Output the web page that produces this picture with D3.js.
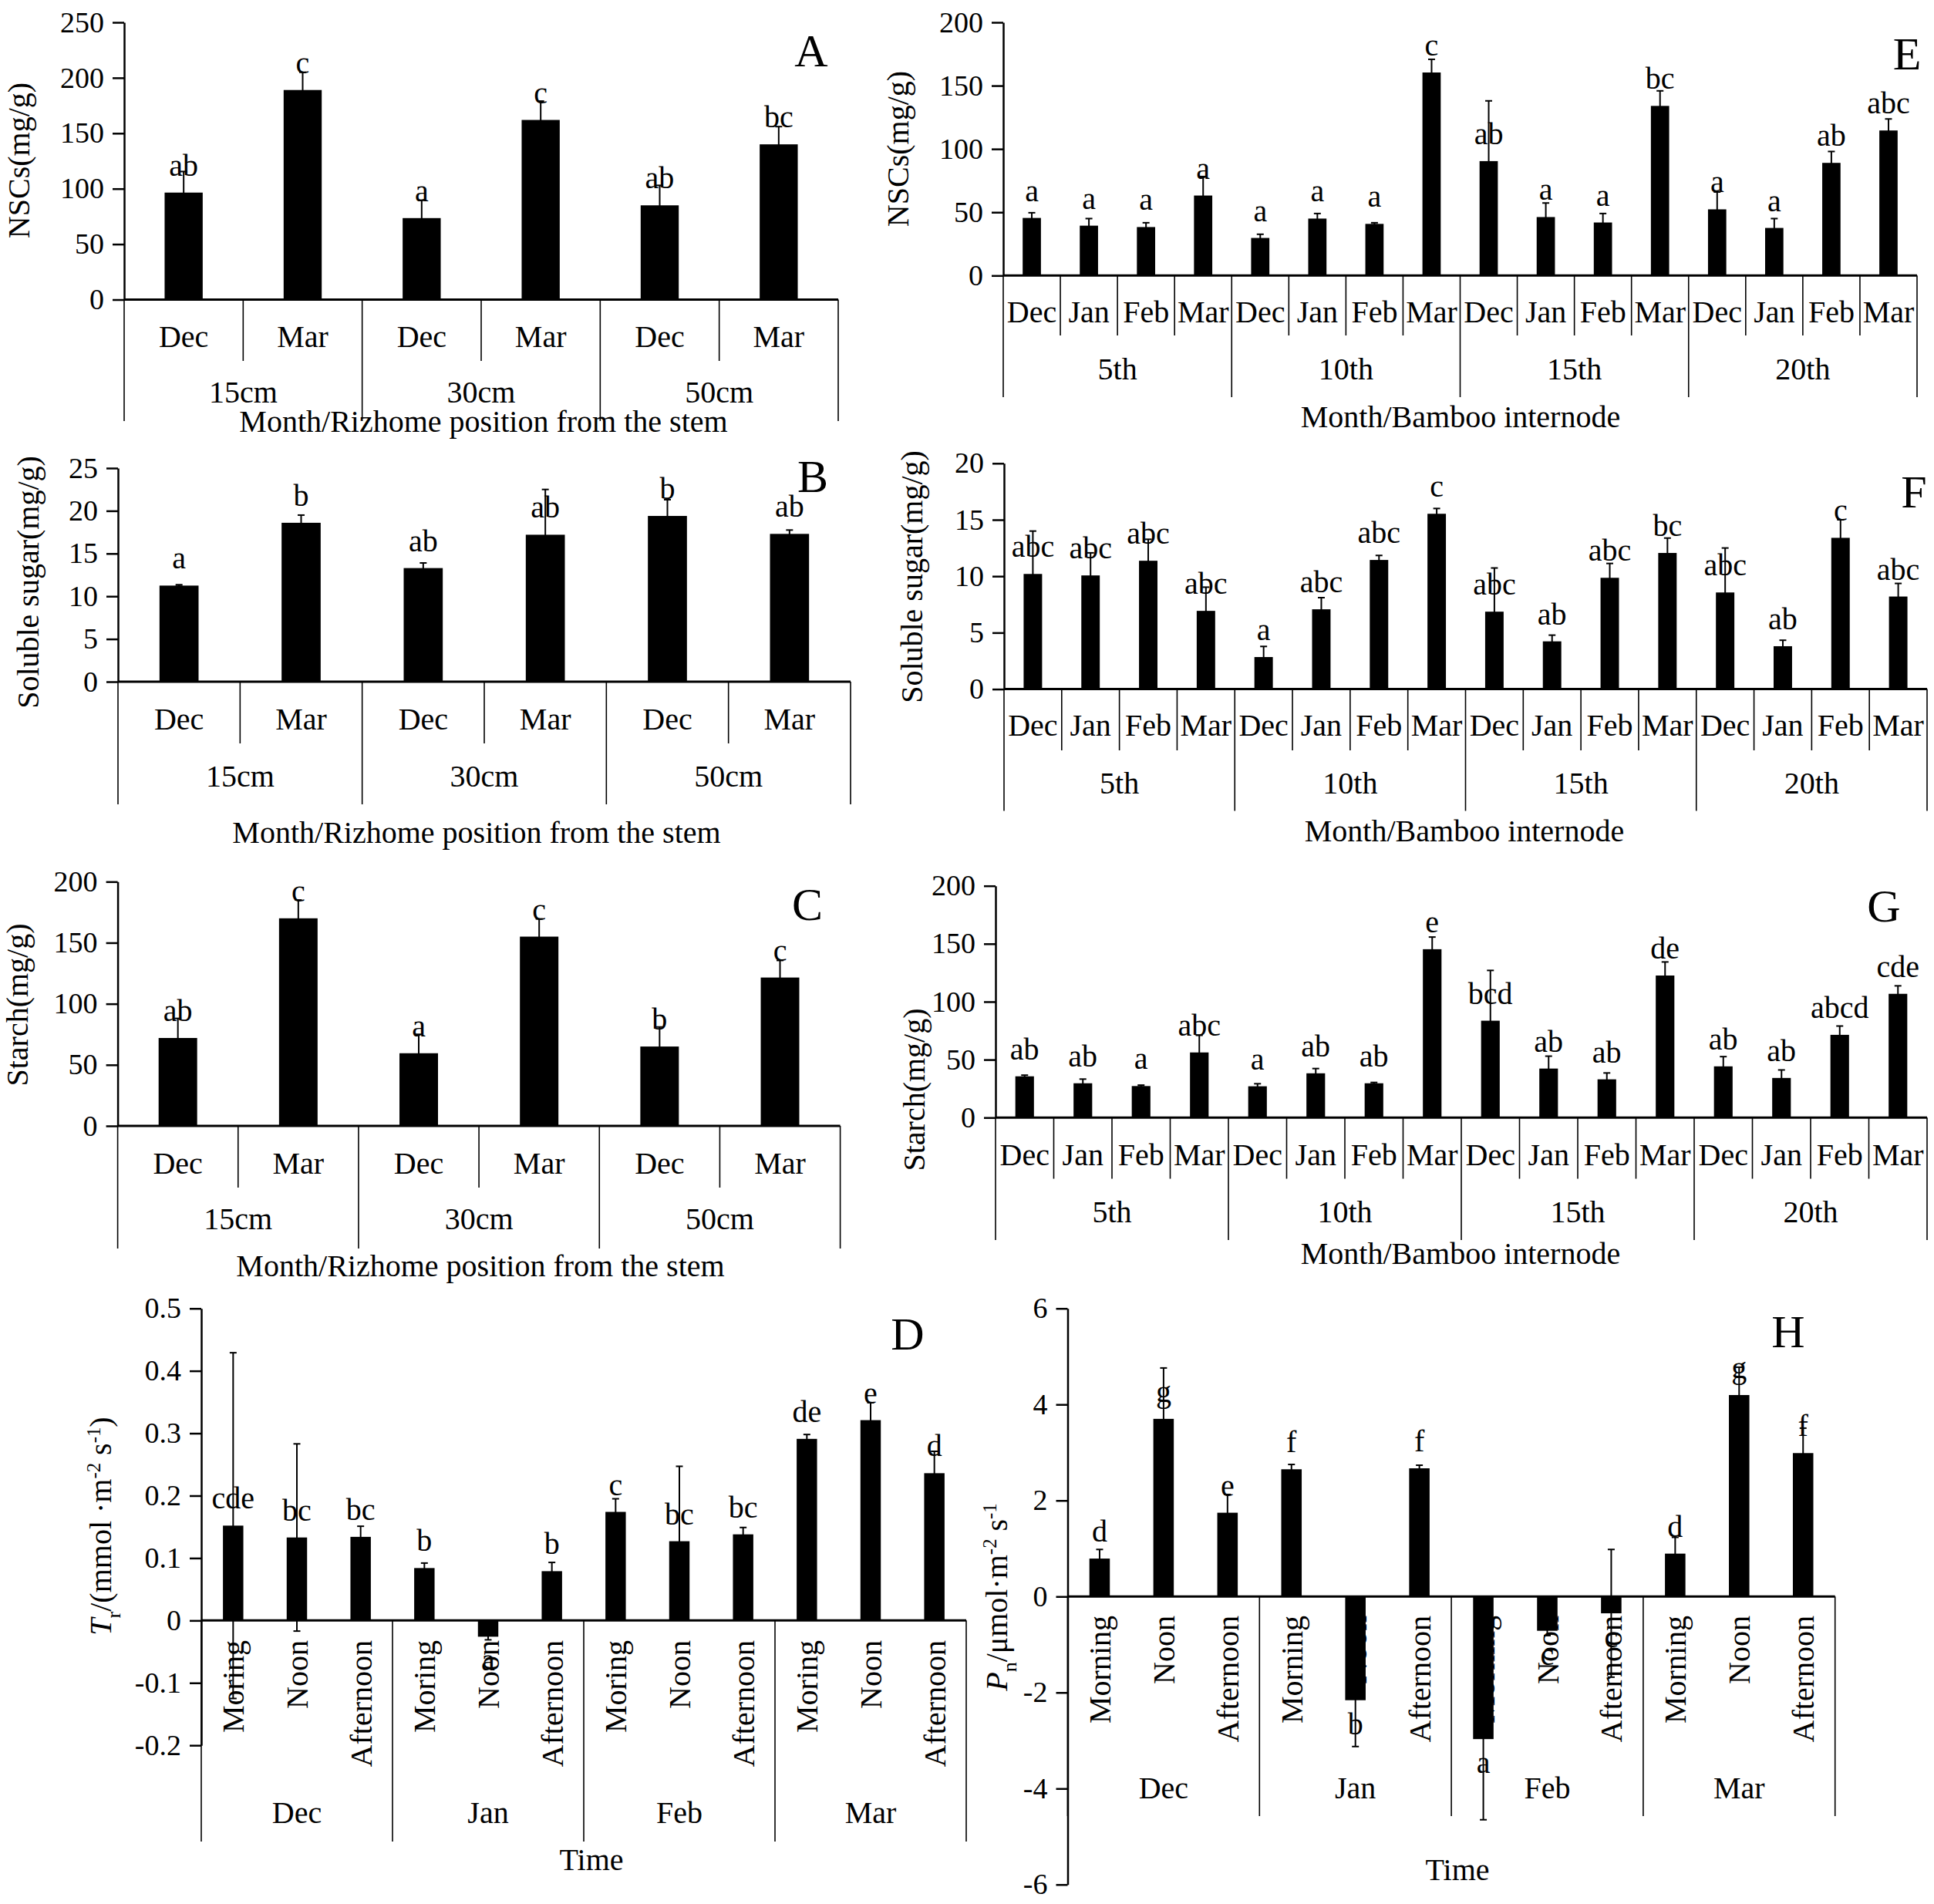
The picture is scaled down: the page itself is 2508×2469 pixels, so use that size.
<!DOCTYPE html>
<html>
<head>
<meta charset="utf-8">
<script src="https://cdn.jsdelivr.net/npm/d3@7"></script>
<style>
  body { margin: 0; background: #fff; }
  svg text { font-family: "Liberation Serif", "Times New Roman", serif; fill: #000; }
</style>
</head>
<body>
<svg id="chart"></svg>
<script>
// ---- categories ----
const rhizomeMonths = ["Dec", "Mar"];
const rhizomeGroups = ["15cm", "30cm", "50cm"];
const internodeMonths = ["Dec", "Jan", "Feb", "Mar"];
const internodeGroups = ["5th", "10th", "15th", "20th"];
const timesD = ["Moring", "Noon", "Afternoon"];
const timesH = ["Morning", "Noon", "Afternoon"];
const gasMonths = ["Dec", "Jan", "Feb", "Mar"];

// ---- A: NSCs in rhizome ----
const nscRhizome = [96.5, 189, 73.5, 162, 85, 140];
const nscRhizomeErr = [19, 16, 16, 17, 18, 16];
const nscRhizomeLetters = ["ab", "c", "a", "c", "ab", "bc"];

// ---- B: soluble sugar in rhizome ----
const sugarRhizome = [11.25, 18.6, 13.3, 17.2, 19.4, 17.3];
const sugarRhizomeErr = [0.1, 0.9, 0.6, 5.3, 1.9, 0.45];
const sugarRhizomeLetters = ["a", "b", "ab", "ab", "b", "ab"];

// ---- C: starch in rhizome ----
const starchRhizome = [72, 170, 59.5, 155, 65, 121.5];
const starchRhizomeErr = [16, 15, 15.5, 14.5, 16, 14];
const starchRhizomeLetters = ["ab", "c", "a", "c", "b", "c"];

// ---- D: transpiration ----
const transpiration = [0.152, 0.133, 0.134, 0.084, -0.026, 0.079, 0.174, 0.127, 0.138, 0.291, 0.321, 0.236];
const transpirationErr = [0.277, 0.15, 0.017, 0.008, 0.005, 0.014, 0.021, 0.12, 0.011, 0.007, 0.028, 0.035];
const transpirationLetters = ["cde", "bc", "bc", "b", "a", "b", "c", "bc", "bc", "de", "e", "d"];

// ---- E: NSCs in internodes ----
const nscInternode = [45.5, 39.4, 38.3, 63.2, 29.7, 45, 40.8, 160.4, 90.4, 46.2, 41.9, 134, 52.3, 37.6, 89, 114.6];
const nscInternodeErr = [4.1, 5.6, 3.4, 15, 2.9, 4, 0.9, 10.4, 47.6, 11.1, 7.1, 11.9, 13.7, 7.4, 9, 9.1];
const nscInternodeLetters = ["a", "a", "a", "a", "a", "a", "a", "c", "ab", "a", "a", "bc", "a", "a", "ab", "abc"];

// ---- F: soluble sugar in internodes ----
const sugarInternode = [10.2, 10.07, 11.37, 6.93, 2.84, 7.07, 11.44, 15.53, 6.86, 4.23, 9.86, 12.06, 8.56, 3.8, 13.4, 8.2];
const sugarInternodeErr = [3.8, 2.0, 1.9, 2.1, 0.94, 1.03, 0.4, 0.47, 3.87, 0.55, 1.27, 1.32, 3.94, 0.53, 1.6, 1.16];
const sugarInternodeLetters = ["abc", "abc", "abc", "abc", "a", "abc", "abc", "c", "abc", "ab", "abc", "bc", "abc", "ab", "c", "abc"];

// ---- G: starch in internodes ----
const starchInternode = [35.6, 29.6, 27.2, 56.2, 27, 38.2, 29.6, 145.3, 83.6, 42.3, 33, 122.6, 44.2, 34.2, 71.4, 106.8];
const starchInternodeErr = [1, 3.6, 0.8, 14.8, 2.2, 4.1, 0.7, 10.5, 43.4, 10.7, 5.5, 11.7, 8.4, 6.9, 7.6, 6.9];
const starchInternodeLetters = ["ab", "ab", "a", "abc", "a", "ab", "ab", "e", "bcd", "ab", "ab", "de", "ab", "ab", "abcd", "cde"];

// ---- H: net photosynthesis ----
const photosynthesis = [0.79, 3.70, 1.745, 2.65, -2.16, 2.67, -2.97, -0.714, -0.35, 0.893, 4.196, 2.987];
const photosynthesisErr = [0.19, 1.06, 0.38, 0.1, 0.965, 0.065, 1.68, 0.1, 1.33, 0.34, 0.58, 0.52];
const photosynthesisLetters = ["d", "g", "e", "f", "b", "f", "a", "c", "c", "d", "g", "f"];

// ---- ticks ----
const ticks250 = [0, 50, 100, 150, 200, 250];
const ticks250Labels = ["0", "50", "100", "150", "200", "250"];
const ticks200 = [0, 50, 100, 150, 200];
const ticks200Labels = ["0", "50", "100", "150", "200"];
const ticks25 = [0, 5, 10, 15, 20, 25];
const ticks25Labels = ["0", "5", "10", "15", "20", "25"];
const ticks20 = [0, 5, 10, 15, 20];
const ticks20Labels = ["0", "5", "10", "15", "20"];
const ticksD = [-0.2, -0.1, 0, 0.1, 0.2, 0.3, 0.4, 0.5];
const ticksDLabels = ["-0.2", "-0.1", "0", "0.1", "0.2", "0.3", "0.4", "0.5"];
const ticksH = [-6, -4, -2, 0, 2, 4, 6];
const ticksHLabels = ["-6", "-4", "-2", "0", "2", "4", "6"];

const rhizomeTitle = "Month/Rizhome position from the stem";
const internodeTitle = "Month/Bamboo internode";

const W = 2508, H = 2469;
const FS = 40;       // category, letter and title text
const TICK_FS = 38;  // y tick labels

const svg = d3.select("#chart")
    .attr("width", W)
    .attr("height", H)
    .attr("viewBox", `0 0 ${W} ${H}`);

svg.append("rect").attr("width", W).attr("height", H).attr("fill", "#fff");

const panels = [
    { letter: "A", values: nscRhizome, errors: nscRhizomeErr, letters: nscRhizomeLetters,
      months: rhizomeMonths, groups: rhizomeGroups, ticks: ticks250, tickLabels: ticks250Labels,
      domain: [0, 250], yLabel: [{ t: "NSCs(mg/g)" }], xTitle: rhizomeTitle,
      x0: 161, x1: 1087, yBottom: 388.5, yTop: 29, monthSep: 468, groupSep: 546,
      monthY: 436, groupY: 508, titleX: 627, titleY: 546, yLabelX: 38, yLabelY: 208, letterX: 1052, letterY: 65 },
    { letter: "B", values: sugarRhizome, errors: sugarRhizomeErr, letters: sugarRhizomeLetters,
      months: rhizomeMonths, groups: rhizomeGroups, ticks: ticks25, tickLabels: ticks25Labels,
      domain: [0, 25], yLabel: [{ t: "Soluble sugar(mg/g)" }], xTitle: rhizomeTitle,
      x0: 153, x1: 1103, yBottom: 884, yTop: 607, monthSep: 964, groupSep: 1043,
      monthY: 932, groupY: 1006, titleX: 618, titleY: 1079, yLabelX: 50, yLabelY: 755, letterX: 1054, letterY: 617 },
    { letter: "C", values: starchRhizome, errors: starchRhizomeErr, letters: starchRhizomeLetters,
      months: rhizomeMonths, groups: rhizomeGroups, ticks: ticks200, tickLabels: ticks200Labels,
      domain: [0, 200], yLabel: [{ t: "Starch(mg/g)" }], xTitle: rhizomeTitle,
      x0: 152.6, x1: 1089.6, yBottom: 1460, yTop: 1143.3, monthSep: 1540, groupSep: 1619,
      monthY: 1508, groupY: 1580, titleX: 623, titleY: 1641, yLabelX: 36, yLabelY: 1303, letterX: 1047, letterY: 1172 },
    { letter: "E", values: nscInternode, errors: nscInternodeErr, letters: nscInternodeLetters,
      months: internodeMonths, groups: internodeGroups, ticks: ticks200, tickLabels: ticks200Labels,
      domain: [0, 200], yLabel: [{ t: "NSCs(mg/g)" }], xTitle: internodeTitle,
      x0: 1301, x1: 2486, yBottom: 357.3, yTop: 29, monthSep: 435, groupSep: 515,
      monthY: 404, groupY: 478, titleX: 1894, titleY: 540, yLabelX: 1178, yLabelY: 193, letterX: 2473, letterY: 69 },
    { letter: "F", values: sugarInternode, errors: sugarInternodeErr, letters: sugarInternodeLetters,
      months: internodeMonths, groups: internodeGroups, ticks: ticks20, tickLabels: ticks20Labels,
      domain: [0, 20], yLabel: [{ t: "Soluble sugar(mg/g)" }], xTitle: internodeTitle,
      x0: 1302, x1: 2499, yBottom: 893.6, yTop: 600.8, monthSep: 973, groupSep: 1051.5,
      monthY: 940, groupY: 1015, titleX: 1899, titleY: 1077, yLabelX: 1196, yLabelY: 748, letterX: 2482, letterY: 637 },
    { letter: "G", values: starchInternode, errors: starchInternodeErr, letters: starchInternodeLetters,
      months: internodeMonths, groups: internodeGroups, ticks: ticks200, tickLabels: ticks200Labels,
      domain: [0, 200], yLabel: [{ t: "Starch(mg/g)" }], xTitle: internodeTitle,
      x0: 1291, x1: 2499, yBottom: 1449.2, yTop: 1148.7, monthSep: 1528.5, groupSep: 1608,
      monthY: 1497, groupY: 1571, titleX: 1894, titleY: 1625, yLabelX: 1199, yLabelY: 1413, letterX: 2443, letterY: 1174 },
    { letter: "D", values: transpiration, errors: transpirationErr, letters: transpirationLetters,
      months: timesD, groups: gasMonths, ticks: ticksD, tickLabels: ticksDLabels, rotated: true,
      domain: [-0.2, 0.5],
      yLabel: [{ t: "T", italic: true }, { t: "r", sub: true }, { t: "/(mmol ·m" }, { t: "-2", sup: true }, { t: " s" }, { t: "-1", sup: true }, { t: ")" }],
      xTitle: "Time",
      x0: 261, x1: 1253, yBottom: 2263.2, yTop: 1696.7, groupSep: 2388,
      monthY: 2127, groupY: 2350, titleX: 767, titleY: 2411, yLabelX: 144, yLabelY: 1979, letterX: 1177, letterY: 1729 },
    { letter: "H", values: photosynthesis, errors: photosynthesisErr, letters: photosynthesisLetters,
      months: timesH, groups: gasMonths, ticks: ticksH, tickLabels: ticksHLabels, rotated: true,
      domain: [-6, 6],
      yLabel: [{ t: "P", italic: true }, { t: "n", sub: true }, { t: "/μmol·m" }, { t: "-2", sup: true }, { t: " s" }, { t: "-1", sup: true }],
      xTitle: "Time",
      x0: 1384.5, x1: 2379.7, yBottom: 2443.8, yTop: 1696.7, groupSep: 2355,
      monthY: 2095, groupY: 2318, titleX: 1890, titleY: 2424, yLabelX: 1306, yLabelY: 2071, letterX: 2319, letterY: 1726 }
];

panels.forEach(p => drawPanel(p));

function drawPanel(p) {
    const g = svg.append("g");
    const n = p.values.length;
    const perGroup = p.months.length;

    const x = d3.scaleBand().domain(d3.range(n)).range([p.x0, p.x1]).padding(0);
    const y = d3.scaleLinear().domain(p.domain).range([p.yBottom, p.yTop]);
    const bw = x.bandwidth();
    const barW = bw * 0.32;
    const zeroY = y(0);
    const cx = i => x(i) + bw / 2;

    // y axis
    const axis = g.append("g")
        .attr("transform", `translate(${p.x0},0)`)
        .call(d3.axisLeft(y)
            .tickValues(p.ticks)
            .tickFormat((d, i) => p.tickLabels[i])
            .tickSize(15)
            .tickPadding(11)
            .tickSizeOuter(0));
    axis.select(".domain").attr("stroke", "#000").attr("stroke-width", 2.5);
    axis.selectAll(".tick line").attr("stroke", "#000").attr("stroke-width", 2.5);
    axis.selectAll(".tick text").style("font-size", TICK_FS + "px");

    // category frame below the zero line
    const bounds = d3.range(n + 1);
    g.selectAll("line.sep")
        .data(bounds)
        .join("line")
        .attr("x1", i => i === n ? p.x1 : x(i))
        .attr("x2", i => i === n ? p.x1 : x(i))
        .attr("y1", zeroY)
        .attr("y2", i => (i % perGroup === 0) ? p.groupSep : (p.rotated ? zeroY : p.monthSep))
        .attr("stroke", "#000")
        .attr("stroke-width", 1.6);

    // bars
    g.selectAll("rect.bar")
        .data(p.values)
        .join("rect")
        .attr("x", (d, i) => cx(i) - barW / 2)
        .attr("y", d => Math.min(y(d), zeroY))
        .attr("width", barW)
        .attr("height", d => Math.abs(y(d) - zeroY))
        .attr("fill", "#000");

    // error bars (mean ± error)
    const cap = 4.5;
    const err = g.append("g").attr("stroke", "#000").attr("stroke-width", 2);
    p.values.forEach((v, i) => {
        const lo = y(v - p.errors[i]), hi = y(v + p.errors[i]);
        err.append("line").attr("x1", cx(i)).attr("x2", cx(i)).attr("y1", lo).attr("y2", hi);
        err.append("line").attr("x1", cx(i) - cap).attr("x2", cx(i) + cap).attr("y1", hi).attr("y2", hi);
        err.append("line").attr("x1", cx(i) - cap).attr("x2", cx(i) + cap).attr("y1", lo).attr("y2", lo);
    });

    // zero line
    g.append("line")
        .attr("x1", p.x0).attr("x2", p.x1)
        .attr("y1", zeroY).attr("y2", zeroY)
        .attr("stroke", "#000").attr("stroke-width", 3);

    // significance letters
    g.selectAll("text.sig")
        .data(p.values)
        .join("text")
        .attr("x", (d, i) => cx(i))
        .attr("y", d => d >= 0 ? y(d) - 36 : y(d) + 30)
        .attr("dy", "0.35em")
        .attr("text-anchor", "middle")
        .style("font-size", FS + "px")
        .text((d, i) => p.letters[i]);

    // month / time labels
    if (p.rotated) {
        g.selectAll("text.cat")
            .data(d3.range(n))
            .join("text")
            .attr("transform", i => `translate(${cx(i)},${p.monthY}) rotate(-90)`)
            .attr("dy", "0.35em")
            .attr("text-anchor", "end")
            .style("font-size", FS + "px")
            .text(i => p.months[i % perGroup]);
    } else {
        g.selectAll("text.cat")
            .data(d3.range(n))
            .join("text")
            .attr("x", i => cx(i))
            .attr("y", p.monthY)
            .attr("dy", "0.35em")
            .attr("text-anchor", "middle")
            .style("font-size", FS + "px")
            .text(i => p.months[i % perGroup]);
    }

    // group labels
    g.selectAll("text.grp")
        .data(p.groups)
        .join("text")
        .attr("x", (d, j) => (x(j * perGroup) + x(j * perGroup + perGroup - 1) + bw) / 2)
        .attr("y", p.groupY)
        .attr("dy", "0.35em")
        .attr("text-anchor", "middle")
        .style("font-size", FS + "px")
        .text(d => d);

    // x title
    g.append("text")
        .attr("x", p.titleX).attr("y", p.titleY)
        .attr("dy", "0.35em")
        .attr("text-anchor", "middle")
        .style("font-size", FS + "px")
        .text(p.xTitle);

    // y title
    const ls = 40;
    const yt = g.append("text")
        .attr("transform", `translate(${p.yLabelX},${p.yLabelY}) rotate(-90)`)
        .attr("dy", "0.35em")
        .attr("text-anchor", "middle")
        .style("font-size", ls + "px");
    let shift = 0;
    p.yLabel.forEach(part => {
        const ts = yt.append("tspan").text(part.t);
        let target = 0;
        if (part.sub) { target = ls * 0.3; ts.style("font-size", (ls * 0.65) + "px"); }
        if (part.sup) { target = -ls * 0.35; ts.style("font-size", (ls * 0.62) + "px"); }
        if (part.italic) ts.style("font-style", "italic");
        ts.attr("dy", target - shift);
        shift = target;
    });

    // panel letter
    g.append("text")
        .attr("x", p.letterX).attr("y", p.letterY)
        .attr("dy", "0.35em")
        .attr("text-anchor", "middle")
        .style("font-size", "60px")
        .text(p.letter);
}
</script>
</body>
</html>
